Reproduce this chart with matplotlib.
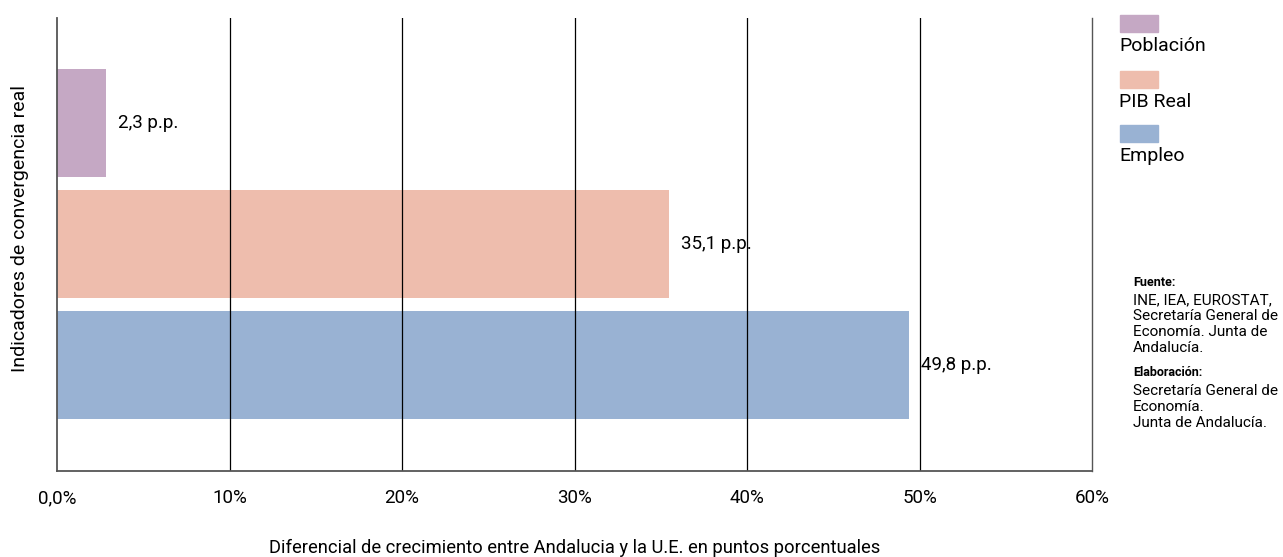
import matplotlib.pyplot as plt
from matplotlib.patches import Rectangle

# Data
categories = ['Población', 'PIB Real', 'Empleo']
bar_lengths = [2.85, 35.5, 49.4]
value_labels = ['2,3 p.p.', '35,1 p.p.', '49,8 p.p.']
colors = ['#c5a8c4', '#eebdad', '#99b2d3']
tick_values = [0, 10, 20, 30, 40, 50, 60]
tick_labels = ['0,0%', '10%', '20%', '30%', '40%', '50%', '60%']

plt.rcParams['font.family'] = ['Roboto', 'DejaVu Sans']

W, H = 1283, 557
fig = plt.figure(figsize=(W / 100, H / 100), dpi=100)
ax = fig.add_axes([57 / W, 1 - 471 / H, (1092 - 57) / W, (471 - 18) / H])

positions = list(range(len(categories)))
ax.barh(positions, bar_lengths, height=0.9, color=colors, zorder=1)
ax.set_ylim(2.876, -0.868)
ax.set_xlim(0, 60)

# Vertical grid lines
for t in tick_values[1:-1]:
    ax.axvline(t, color='black', linewidth=0.9, zorder=2)

for pos, length, lab in zip(positions, bar_lengths, value_labels):
    ax.text(length + 0.7, pos, lab, va='center', ha='left', fontsize=13.5, zorder=3)

ax.set_yticks([])
ax.set_xticks(tick_values)
ax.set_xticklabels(tick_labels, fontsize=13.5)
ax.tick_params(axis='x', length=0, pad=13)
ax.spines['top'].set_visible(False)
for s in ['left', 'bottom', 'right']:
    ax.spines[s].set_color('#555555')
    ax.spines[s].set_linewidth(1.3)
ax.spines['right'].set_linewidth(1.0)

fig.text(575 / W, 1 - 548 / H,
         'Diferencial de crecimiento entre Andalucia y la U.E. en puntos porcentuales',
         fontsize=13.2, ha='center', va='center')
fig.text(20 / W, 1 - 229 / H, 'Indicadores de convergencia real',
         fontsize=14, ha='center', va='center', rotation=90)

# Legend: swatch above label
legend_y = [15, 71, 125]
for cat, col, y in zip(categories, colors, legend_y):
    fig.patches.append(Rectangle((1120 / W, 1 - (y + 17) / H), 38 / W, 17 / H,
                                 transform=fig.transFigure, color=col))
    fig.text(1119 / W, 1 - (y + 31) / H, cat, fontsize=14, va='center', ha='left')

# Source notes
x0 = 1133 / W
fig.text(x0, 1 - 283 / H, 'Fuente:', fontsize=9, fontweight='bold', va='center')
fuente = ['INE, IEA, EUROSTAT,', 'Secretaría General de', 'Economía. Junta de', 'Andalucía.']
for i, line in enumerate(fuente):
    fig.text(x0, 1 - (300 + i * 16) / H, line, fontsize=11, va='center')
fig.text(x0, 1 - 373 / H, 'Elaboración:', fontsize=9, fontweight='bold', va='center')
elab = ['Secretaría General de', 'Economía.', 'Junta de Andalucía.']
for i, line in enumerate(elab):
    fig.text(x0, 1 - (391 + i * 16) / H, line, fontsize=11, va='center')

fig.savefig('out.png', dpi=100)
